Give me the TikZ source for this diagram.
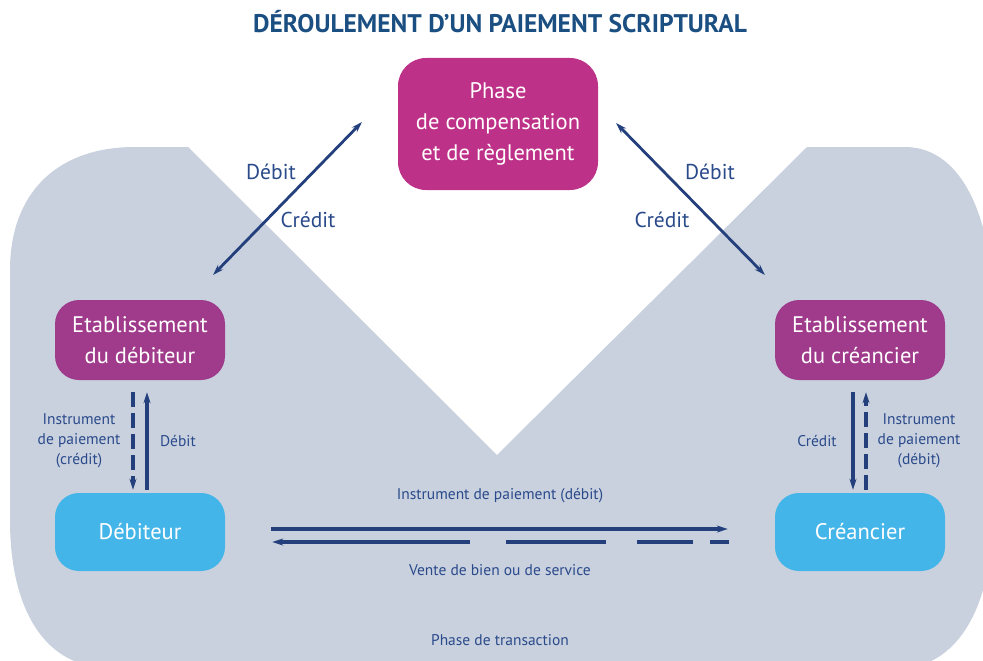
\documentclass[tikz,border=0pt]{standalone}
\usepackage{fontspec}
\setmainfont{PT Sans}
\usetikzlibrary{positioning, arrows.meta}
\definecolor{phasebg}{HTML}{C9D1DF}
\definecolor{compmag}{HTML}{BE3189}
\definecolor{etabpurple}{HTML}{A03A8B}
\definecolor{agentblue}{HTML}{44B5E9}
\definecolor{arrowblue}{HTML}{233F7C}
\definecolor{labelblue}{HTML}{2A4A8A}
\definecolor{titleblue}{HTML}{1B4F82}

\begin{document}
\begin{tikzpicture}[x=1pt, y=-1pt, node distance=2.5cm, on grid, >={Stealth[length=11pt,width=7pt]},
    box/.style={rounded corners=24pt, minimum width=170pt, minimum height=80pt, align=center,
                text=white, font=\fontsize{22.5}{31}\selectfont},
    lbl/.style={text=labelblue, font=\fontsize{21.5}{24}\selectfont},
    small/.style={text=labelblue, align=center, font=\fontsize{15.5}{20}\selectfont},
    flow/.style={draw=arrowblue, line width=3.5pt},
    diag/.style={draw=arrowblue, line width=2.8pt}]
    \useasboundingbox (0,0) rectangle (983,661);
    \clip (0,0) rectangle (983,661);

    % Transaction area
    \fill[phasebg] (10,520) -- (10,270) .. controls (10,195) and (55,147) .. (135,147)
        -- (188,147) -- (497,455) -- (807,147) -- (905,147)
        .. controls (965,147) and (992,225) .. (992,300) -- (992,520)
        .. controls (992,610) and (955,668) .. (900,668) -- (110,668)
        .. controls (45,668) and (10,610) .. cycle;

    % Nodes
    \node[text=titleblue, font=\fontsize{25.5}{28}\selectfont\bfseries] (title) at (500,22)
        {DÉROULEMENT D’UN PAIEMENT SCRIPTURAL};
    \node[box, fill=compmag, minimum width=200pt, minimum height=132pt, rounded corners=28pt] (comp) at (498,124)
        {Phase\\de compensation\\et de règlement};
    \node[box, fill=etabpurple] (etabdeb) at (140,340) {Etablissement\\du débiteur};
    \node[box, fill=etabpurple] (etabcre) [right=720pt of etabdeb] {Etablissement\\du créancier};
    \node[box, fill=agentblue, minimum height=78pt] (deb) [below=192pt of etabdeb] {Débiteur};
    \node[box, fill=agentblue, minimum height=78pt] (cre) [below=192pt of etabcre] {Créancier};

    % Clearing flows
    \coordinate (dl1) at (213,275);
    \coordinate (dl2) at (362,122);
    \coordinate (dr1) at (616,123);
    \coordinate (dr2) at (765,275);
    \draw[diag, <->] (dl1) -- (dl2);
    \draw[diag, <->] (dr1) -- (dr2);
    \node[lbl] (dbl) at (271,172) {Débit};
    \node[lbl] (crl) at (308,220) {Crédit};
    \node[lbl] (dbr) at (710,172) {Débit};
    \node[lbl] (crr) at (662,220) {Crédit};

    % Bank / customer flows
    \draw[flow, ->, dash pattern=on 15pt off 6pt, shorten <=12pt, shorten >=3pt]
        ([xshift=-7pt]etabdeb.south) -- ([xshift=-7pt]deb.north);
    \draw[flow, ->, shorten <=3pt, shorten >=12pt]
        ([xshift=7pt]deb.north) -- ([xshift=7pt]etabdeb.south);
    \draw[flow, ->, shorten <=12pt, shorten >=3pt]
        ([xshift=-7pt]etabcre.south) -- ([xshift=-7pt]cre.north);
    \draw[flow, ->, dash pattern=on 15pt off 6pt, shorten <=3pt, shorten >=12pt]
        ([xshift=6pt]cre.north) -- ([xshift=6pt]etabcre.south);
    \node[small] (instl) at (79,441) {Instrument\\de paiement\\(crédit)};
    \node[small] (debl) at (178,441) {Débit};
    \node[small] (credr) at (817,441) {Crédit};
    \node[small] (instr) at (919,441) {Instrument\\de paiement\\(débit)};

    % Transaction flows
    \draw[flow, ->, shorten <=46pt, shorten >=47pt]
        ([yshift=3pt]deb.east) -- ([yshift=3pt]cre.east -| cre.west);
    \draw[flow, ->, dash pattern=on 19pt off 17pt on 56pt off 31pt on 100pt off 36pt on 220pt,
          shorten <=46pt, shorten >=47pt]
        ([yshift=-10pt]cre.west) -- ([yshift=-10pt]deb.east);
    \node[small] (instb) at (500,496) {Instrument de paiement (débit)};
    \node[small] (vente) at (500,570) {Vente de bien ou de service};
    \node[small] (trans) at (500,640) {Phase de transaction};
\end{tikzpicture}
\end{document}
